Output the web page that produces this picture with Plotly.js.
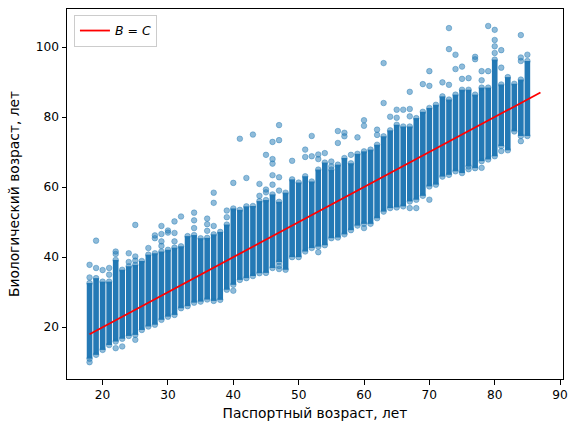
<!DOCTYPE html>
<html>
<head>
<meta charset="utf-8">
<script src="https://cdn.plot.ly/plotly-3.0.1.min.js"></script>
<style>html,body{margin:0;padding:0;background:#fff;}#chart{width:577px;height:432px;}</style>
</head>
<body>
<div id="chart"></div>
<script>
// Passport ages (integer x positions of the vertical point strips)
const ages = [18,19,20,21,22,23,24,25,26,27,28,29,30,31,32,33,34,35,36,37,38,39,40,41,42,43,44,45,46,47,48,49,50,51,
              52,53,54,55,56,57,58,59,60,61,62,63,64,65,66,67,68,69,70,71,72,73,74,75,76,77,78,79,80,81,82,83,84,85];
// Lower / upper edge of the dense band of biological ages at each passport age
const bandLow = [11.0,12.1,13.5,14.9,15.9,16.7,17.5,17.8,19.2,20.2,20.7,22.1,23.0,23.5,25.4,26.0,27.0,27.3,27.9,27.5,27.8,30.7,32.1,33.5,
                 34.0,34.6,35.4,35.5,36.9,38.6,36.4,40.0,40.0,41.6,42.6,43.0,43.4,45.4,45.6,46.5,47.7,49.0,49.5,49.5,51.1,53.0,54.0,54.2,
                 54.5,55.9,56.4,57.5,60.2,60.7,63.0,63.5,64.5,64.0,65.9,65.4,67.4,67.9,68.8,71.7,70.5,75.9,74.6,74.6];
const bandHigh = [32.6,34.0,33.0,33.0,39.2,36.4,37.4,37.8,38.9,40.7,41.1,41.6,42.1,42.7,43.1,46.0,46.3,45.4,45.5,46.5,47.2,49.3,53.9,53.5,
                  54.5,54.6,56.0,56.3,57.9,55.8,58.4,62.2,61.3,63.1,61.6,65.0,67.0,65.0,66.4,68.3,66.8,69.5,70.2,70.7,72.1,74.5,76.2,77.8,
                  77.3,77.3,79.7,81.5,82.6,83.5,85.9,85.0,86.4,87.8,87.8,86.4,88.4,88.4,96.4,89.3,91.4,89.5,90.7,96.0];
// Isolated points outside the dense bands
const outAge = [18,18,18,19,19,20,21,21,22,22,22,23,24,24,25,25,25,25,27,28,28,29,29,29,29,30,30,31,31,31,32,34,34,34,36,36,36,
                37,37,37,39,39,40,40,41,42,43,44,44,45,45,45,46,46,46,46,46,47,47,47,47,47,47,49,51,51,52,52,53,53,53,54,55,55,
                56,56,57,57,58,59,60,60,60,62,62,63,63,64,65,65,66,67,67,67,67,68,69,70,70,70,72,73,73,73,74,74,75,75,76,76,
                77,77,78,78,78,79,79,80,80,80,80,81,81,81,84,84,84,84,85];
const outBio = [10.0,34.2,37.8,36.9,44.7,36.3,35.0,36.9,14.0,40.9,41.6,14.5,38.6,41.1,16.4,39.0,40.2,49.2,42.6,45.4,46.2,43.2,44.5,46.6,48.9,47.0,47.6,44.5,46.9,50.2,51.6,48.3,50.5,52.7,47.5,49.4,51.0,
                48.9,55.5,58.4,51.4,53.3,30.4,61.2,73.8,62.6,75.0,57.5,60.9,58.5,59.3,69.2,60.7,63.4,66.7,68.0,72.9,36.6,37.5,59.0,62.8,73.4,77.7,67.5,68.6,70.7,68.8,74.6,41.4,68.0,69.3,69.7,65.9,67.3,
                72.6,76.0,74.5,75.5,69.2,74.2,48.3,77.5,79.1,74.9,76.4,84.0,95.4,80.1,79.8,82.1,82.1,54.0,80.2,82.3,87.2,54.0,89.4,56.4,88.9,93.1,89.9,89.2,99.4,105.4,93.7,97.8,90.9,94.4,65.1,91.1,
                96.5,97.2,65.5,90.5,93.1,93.1,106.0,98.3,100.2,102.0,104.9,70.3,94.1,99.1,73.1,96.0,97.0,103.4,97.8];
// Reference line B = C
const lineAges = [18, 87];

const stripX = [], stripY = [];
ages.forEach((a, i) => { stripX.push(a, a, null); stripY.push(bandLow[i], bandHigh[i], null); });
const endX = ages.concat(ages);
const endY = bandLow.concat(bandHigh);

const pointMarker = {size: 5.6, color: 'rgba(31,119,180,0.5)', line: {color: 'rgba(31,119,180,0.5)', width: 0.8}};

const traces = [
  {x: stripX, y: stripY, type: 'scatter', mode: 'lines', showlegend: false, hoverinfo: 'skip',
   line: {color: 'rgb(36,121,181)', width: 5.6}},
  {x: endX, y: endY, type: 'scatter', mode: 'markers', showlegend: false, hoverinfo: 'skip', marker: pointMarker},
  {x: outAge, y: outBio, type: 'scatter', mode: 'markers', showlegend: false, marker: pointMarker},
  {x: lineAges, y: lineAges, type: 'scatter', mode: 'lines', name: '<i>B</i> = <i>C</i>',
   line: {color: 'red', width: 1.8}}
];

const titleFont = {family: 'DejaVu Sans', size: 13.8, color: 'black'};
const axisCommon = {
  showline: true, mirror: true, linecolor: 'black', linewidth: 1,
  ticks: 'outside', ticklen: 4.5, tickwidth: 1, tickcolor: 'black',
  showgrid: false, zeroline: false,
  tickfont: {family: 'DejaVu Sans', size: 12.2, color: 'black'}
};

const layout = {
  width: 577, height: 432,
  margin: {l: 67, r: 14, t: 9, b: 53},
  paper_bgcolor: 'white', plot_bgcolor: 'white',
  font: {family: 'DejaVu Sans', size: 12.5, color: 'black'},
  xaxis: Object.assign({}, axisCommon, {
    range: [14.55, 90.45], tickvals: [20,30,40,50,60,70,80,90],
    title: {text: 'Паспортный возраст, лет', font: titleFont, standoff: 7}
  }),
  yaxis: Object.assign({}, axisCommon, {
    range: [5.2, 110.85], tickvals: [20,40,60,80,100],
    title: {text: 'Биологический возраст, лет', font: titleFont, standoff: 12}
  }),
  legend: {x: 0.014, y: 0.984, xanchor: 'left', yanchor: 'top',
           bgcolor: 'rgba(255,255,255,0.8)', bordercolor: '#cccccc', borderwidth: 1,
           font: {family: 'DejaVu Sans', size: 12.5, color: 'black'}, itemwidth: 30},
  showlegend: true
};

Plotly.newPlot('chart', traces, layout, {displayModeBar: false, staticPlot: true});
</script>
</body>
</html>
